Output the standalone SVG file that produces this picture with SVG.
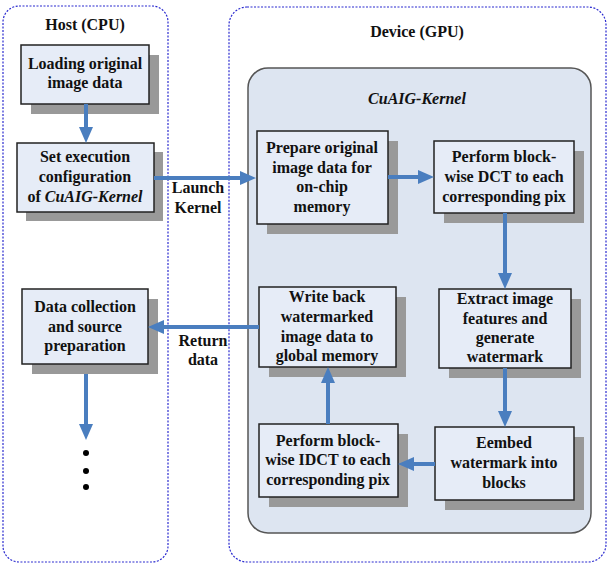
<svg xmlns="http://www.w3.org/2000/svg" width="608" height="564" viewBox="0 0 608 564">
<defs>
<style>
.container{fill:#fff;stroke:#2b2bd0;stroke-width:1.2;stroke-dasharray:2,1.5}
.panel{fill:#dde5f1;stroke:#555;stroke-width:1.5}
.box{fill:#e6ecf7;stroke:#222;stroke-width:1.5}
.shadow{fill:#999}
text{font-family:"Liberation Serif","Times New Roman",serif;font-weight:bold;font-size:16px;fill:#111;text-anchor:middle}
.it{font-style:italic}
.arrow{stroke:#4a7ebf;stroke-width:4;fill:none;marker-end:url(#ah)}
</style>
<marker id="ah" markerUnits="userSpaceOnUse" markerWidth="16" markerHeight="14" refX="6" refY="7" orient="auto">
<path d="M0,0 L16,7 L0,14 z" fill="#4a7ebf"/>
</marker>
</defs>
<rect x="0" y="0" width="608" height="564" fill="#fff"/>
<g id="host">
<rect class="container" x="3" y="6" width="165" height="556" rx="16"/>
<text x="85" y="30">Host (CPU)</text>
</g>
<g id="device">
<rect class="container" x="229" y="7" width="377" height="555" rx="18"/>
<text x="417" y="37">Device (GPU)</text>
</g>
<g id="kernel">
<rect class="panel" x="248" y="68" width="343" height="465" rx="20"/>
<text class="it" x="417" y="104">CuAIG-Kernel</text>
</g>
<g id="load">
<rect class="shadow" x="31" y="55" width="128" height="59"/>
<rect class="box" x="21" y="45" width="128" height="59"/>
<text x="85" y="69">Loading original</text>
<text x="85" y="88">image data</text>
</g>
<g id="config">
<rect class="shadow" x="26" y="152" width="137" height="69"/>
<rect class="box" x="17" y="143" width="137" height="69"/>
<text x="85" y="162">Set execution</text>
<text x="85" y="182">configuration</text>
<text x="85" y="202">of <tspan class="it">CuAIG-Kernel</tspan></text>
</g>
<g id="prepare">
<rect class="shadow" x="267" y="141" width="131" height="93"/>
<rect class="box" x="257" y="131" width="131" height="93"/>
<text x="322" y="153">Prepare original</text>
<text x="322" y="173">image data for</text>
<text x="322" y="192">on-chip</text>
<text x="322" y="212">memory</text>
</g>
<g id="dct">
<rect class="shadow" x="444" y="151" width="140" height="72"/>
<rect class="box" x="434" y="141" width="140" height="72"/>
<text x="504" y="162">Perform block-</text>
<text x="504" y="182">wise DCT to each</text>
<text x="504" y="202">corresponding pix</text>
</g>
<g id="extract">
<rect class="shadow" x="449" y="299" width="132" height="79"/>
<rect class="box" x="439" y="289" width="132" height="79"/>
<text x="505" y="304">Extract image</text>
<text x="505" y="324">features and</text>
<text x="505" y="343">generate</text>
<text x="505" y="362">watermark</text>
</g>
<g id="embed">
<rect class="shadow" x="445" y="437" width="139" height="73"/>
<rect class="box" x="435" y="427" width="139" height="73"/>
<text x="504" y="448">Eembed</text>
<text x="504" y="468">watermark into</text>
<text x="504" y="488">blocks</text>
</g>
<g id="idct">
<rect class="shadow" x="269" y="434" width="139" height="73"/>
<rect class="box" x="259" y="424" width="139" height="73"/>
<text x="328" y="446">Perform block-</text>
<text x="328" y="465">wise IDCT to each</text>
<text x="328" y="485">corresponding pix</text>
</g>
<g id="writeback">
<rect class="shadow" x="269" y="297" width="137" height="80"/>
<rect class="box" x="259" y="287" width="137" height="80"/>
<text x="327" y="302">Write back</text>
<text x="327" y="322">watermarked</text>
<text x="327" y="342">image data to</text>
<text x="327" y="361">global memory</text>
</g>
<g id="collect">
<rect class="shadow" x="32" y="299" width="126" height="75"/>
<rect class="box" x="22" y="289" width="126" height="75"/>
<text x="85" y="312">Data collection</text>
<text x="85" y="332">and source</text>
<text x="85" y="351">preparation</text>
</g>
<g id="connectors">
<path class="arrow" d="M86,104 V133"/>
<path class="arrow" d="M154,178 H246"/>
<path class="arrow" d="M388,177 H424"/>
<path class="arrow" d="M505,213 V279"/>
<path class="arrow" d="M505,368 V417"/>
<path class="arrow" d="M435,464 H408"/>
<path class="arrow" d="M328,424 V377"/>
<path class="arrow" d="M259,327 H158"/>
<path class="arrow" d="M86,374 V430"/>
<text x="198" y="193">Launch</text>
<text x="198" y="213">Kernel</text>
<text x="203" y="346">Return</text>
<text x="203" y="365">data</text>
<circle cx="86" cy="453" r="3" fill="#000"/>
<circle cx="86" cy="471" r="3" fill="#000"/>
<circle cx="86" cy="487" r="3" fill="#000"/>
</g>
</svg>
